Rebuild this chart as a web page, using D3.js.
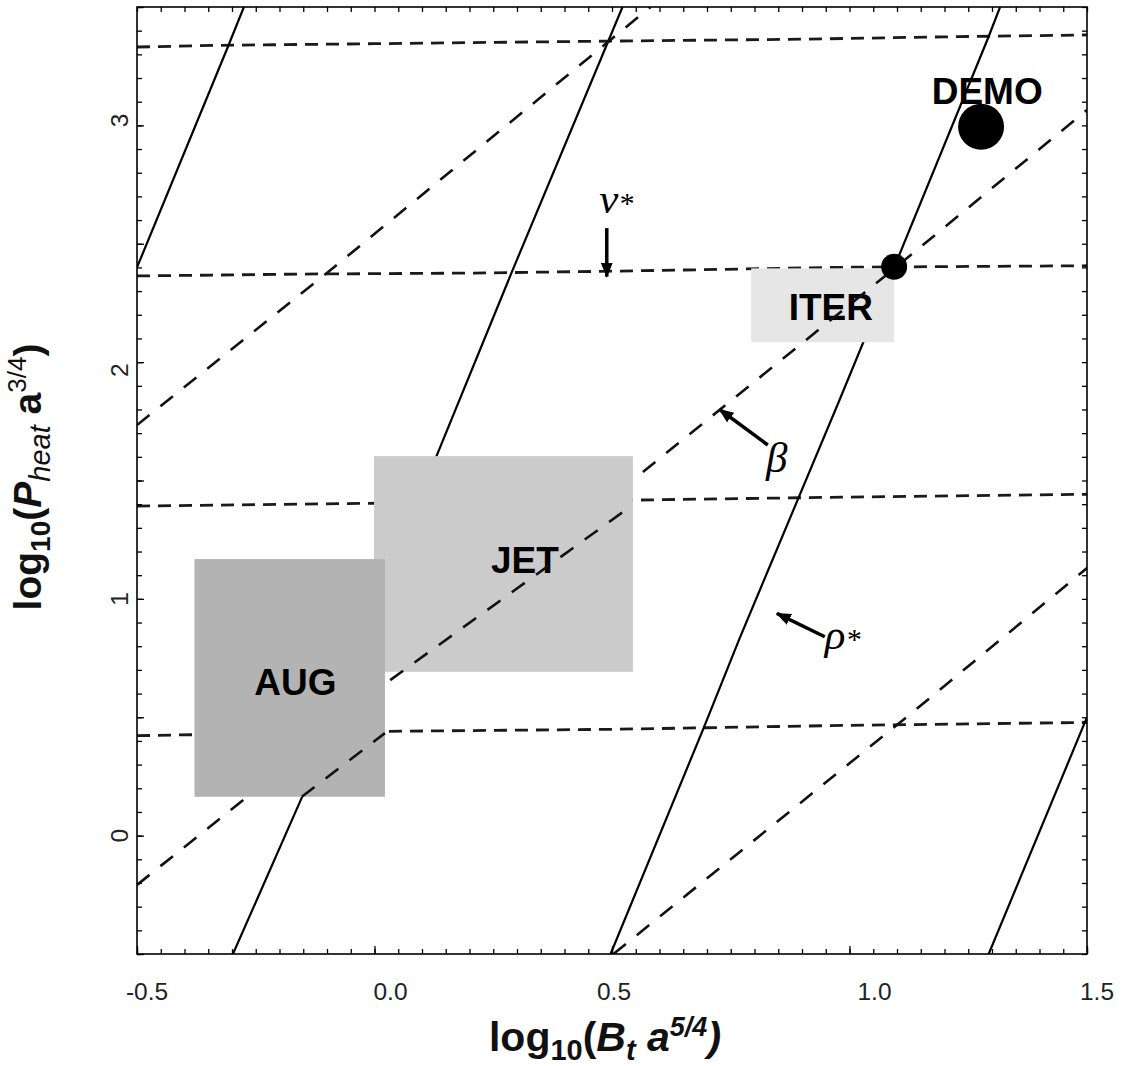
<!DOCTYPE html>
<html>
<head>
<meta charset="utf-8">
<script src="https://cdn.jsdelivr.net/npm/d3@7/dist/d3.min.js"></script>
<style>
  html, body { margin: 0; padding: 0; background: #fff; }
  svg { display: block; font-family: 'Liberation Sans', Arial, sans-serif; }
  .tick-label { font-size: 24.5px; fill: #222; }
  .axis-title { font-size: 39px; font-weight: bold; fill: #111; }
  .machine { font-size: 37px; font-weight: bold; fill: #000; }
  .greek { font-family: 'Liberation Serif', 'Times New Roman', serif; font-style: italic; font-size: 43px; fill: #000; }
  .nu-line { fill: none; stroke: #1a1a1a; stroke-width: 2.8; stroke-dasharray: 13 8; }
  .rho-line { fill: none; stroke: #000; stroke-width: 2.2; }
  .beta-line { fill: none; stroke: #111; stroke-width: 2.6; stroke-dasharray: 16 14; }
  .axis .domain { display: none; }
  .axis line { stroke: #000; stroke-width: 1.3; }
</style>
</head>
<body>
<svg id="chart" width="1122" height="1066"></svg>
<script>
// axis ticks
const xTickValues = [-0.5, 0.0, 0.5, 1.0, 1.5];
const xTickLabels = ['-0.5', '0.0', '0.5', '1.0', '1.5'];
const yTickValues = [0, 1, 2, 3];
const yTickLabels = ['0', '1', '2', '3'];

// nu* = const (nearly horizontal dashed)
const nuLines = [
  [[-0.5, 3.331], [-0.33, 3.338], [0.0, 3.345], [0.5, 3.356], [0.9, 3.364], [1.2, 3.374], [1.5, 3.382]],
  [[-0.5, 2.364], [-0.15, 2.372], [0.2, 2.376], [0.5, 2.384], [1.0, 2.401], [1.5, 2.407]],
  [[-0.5, 1.392], [0.0, 1.404], [0.5, 1.416], [1.0, 1.430], [1.5, 1.442]],
  [[-0.5, 0.422], [0.0, 0.440], [0.5, 0.449], [1.0, 0.466], [1.5, 0.478]]
];

// rho* = const (solid, steep)
const rhoLines = [
  [[-0.5, 2.40], [-0.309, 3.33], [-0.275, 3.5]],
  [[-0.298, -0.5], [-0.151, 0.17], [0.132, 1.61], [0.289, 2.38], [0.491, 3.35], [0.522, 3.5]],
  [[0.497, -0.5], [0.692, 0.45], [0.768, 0.83], [0.979, 1.84], [1.094, 2.40], [1.292, 3.37], [1.317, 3.5]],
  [[1.293, -0.5], [1.471, 0.36], [1.5, 0.50]]
];

// beta = const (diagonal dashed), middle contour comes in broken pieces
const betaLines = [
  [[-0.5, 1.734], [-0.101, 2.375], [0.552, 3.452], [0.581, 3.5]],
  [[-0.5, -0.208], [-0.268, 0.164]],
  [[-0.153, 0.164], [0.022, 0.433]],
  [[0.033, 0.657], [0.523, 1.367]],
  [[0.565, 1.536], [1.096, 2.398], [1.5, 3.065]],
  [[0.503, -0.5], [1.134, 0.523], [1.5, 1.130]]
];

// machine operating windows
const machineNames = ['JET', 'AUG', 'ITER'];
const machineX = [[-0.001, 0.544], [-0.379, 0.022], [0.793, 1.094]];
const machineY = [[0.692, 1.603], [0.164, 1.168], [2.084, 2.396]];
const machineFill = ['#cbcbcb', '#b3b3b3', '#e6e6e6'];
const machineLabelX = [0.245, -0.253, 0.872];
const machineLabelY = [1.108, 0.594, 2.178];

// design points
const pointNames = ['DEMO', 'ITER'];
const pointX = [1.277, 1.094];
const pointY = [2.994, 2.403];
const pointR = [23, 13];
const demoLabel = { text: 'DEMO', x: 1.173, y: 3.090 };

// arrows [from, to] and their symbols
const arrowFrom = [[0.489, 2.566], [0.828, 1.650], [0.948, 0.840]];
const arrowTo = [[0.489, 2.361], [0.726, 1.801], [0.847, 0.939]];
const symbolText = ['ν', 'β', 'ρ'];
const symbolStar = [true, false, true];
const symbolX = [0.473, 0.824, 0.948];
const symbolY = [2.630, 1.536, 0.788];

const layout = {
  left: 137, right: 1087, top: 7, bottom: 954,
  xNudge: [10, 16, 2, 25, 10],
  yNudge: [0, 0, 8, -5]
};

const svg = d3.select('#chart');
const x = d3.scaleLinear().domain([-0.5, 1.5]).range([layout.left, layout.right]);
const y = d3.scaleLinear().domain([-0.5, 3.5]).range([layout.bottom, layout.top]);
const line = d3.line().x(d => x(d[0])).y(d => y(d[1]));

const defs = svg.append('defs');
defs.append('clipPath').attr('id', 'plot-clip')
  .append('rect')
  .attr('x', layout.left).attr('y', layout.top)
  .attr('width', layout.right - layout.left)
  .attr('height', layout.bottom - layout.top);

defs.append('marker')
  .attr('id', 'head')
  .attr('viewBox', '0 0 15 12')
  .attr('refX', 14).attr('refY', 6)
  .attr('markerWidth', 15).attr('markerHeight', 12)
  .attr('markerUnits', 'userSpaceOnUse')
  .attr('orient', 'auto')
  .append('path').attr('d', 'M0,0 L15,6 L0,12 Z').attr('fill', '#000');

const plot = svg.append('g').attr('clip-path', 'url(#plot-clip)');

plot.selectAll('.nu-line').data(nuLines).join('path')
  .attr('class', 'nu-line').attr('d', line);

plot.selectAll('.rho-line').data(rhoLines).join('path')
  .attr('class', 'rho-line').attr('d', line);

plot.selectAll('.machine-box').data(machineNames).join('rect')
  .attr('class', 'machine-box')
  .attr('x', (d, i) => x(machineX[i][0]))
  .attr('width', (d, i) => x(machineX[i][1]) - x(machineX[i][0]))
  .attr('y', (d, i) => y(machineY[i][1]))
  .attr('height', (d, i) => y(machineY[i][0]) - y(machineY[i][1]))
  .attr('fill', (d, i) => machineFill[i]);

plot.selectAll('.machine').data(machineNames).join('text')
  .attr('class', 'machine')
  .attr('x', (d, i) => x(machineLabelX[i]))
  .attr('y', (d, i) => y(machineLabelY[i]))
  .text(d => d);

plot.append('text').attr('class', 'machine')
  .attr('x', x(demoLabel.x)).attr('y', y(demoLabel.y))
  .text(demoLabel.text);

plot.selectAll('.beta-line').data(betaLines).join('path')
  .attr('class', 'beta-line').attr('d', line);

plot.selectAll('.point').data(pointNames).join('circle')
  .attr('class', 'point')
  .attr('cx', (d, i) => x(pointX[i]))
  .attr('cy', (d, i) => y(pointY[i]))
  .attr('r', (d, i) => pointR[i])
  .attr('fill', '#000');

// arrows + symbols
svg.selectAll('.arrow').data(arrowFrom).join('line')
  .attr('class', 'arrow')
  .attr('x1', d => x(d[0])).attr('y1', d => y(d[1]))
  .attr('x2', (d, i) => x(arrowTo[i][0])).attr('y2', (d, i) => y(arrowTo[i][1]))
  .attr('stroke', '#000').attr('stroke-width', 3.5)
  .attr('marker-end', 'url(#head)');

const sym = svg.selectAll('.greek').data(symbolText).join('text')
  .attr('class', 'greek')
  .attr('x', (d, i) => x(symbolX[i]))
  .attr('y', (d, i) => y(symbolY[i]));
sym.append('tspan').text(d => d);
sym.filter((d, i) => symbolStar[i]).append('tspan')
  .attr('font-size', 30).text('*');

// frame and inward ticks
function drawAxes() {
  const xMinor = d3.range(-0.5, 1.5001, 0.05);
  const yMinor = d3.range(-0.5, 3.5001, 0.1);
  const xMajor = xTickValues;
  const yMajor = d3.range(-0.5, 3.5001, 0.5);

  const axes = [
    [d3.axisBottom(x).tickValues(xMinor).tickSize(-5), `translate(0,${layout.bottom})`],
    [d3.axisBottom(x).tickValues(xMajor).tickSize(-8), `translate(0,${layout.bottom})`],
    [d3.axisTop(x).tickValues(xMinor).tickSize(-5), `translate(0,${layout.top})`],
    [d3.axisLeft(y).tickValues(yMinor).tickSize(-5), `translate(${layout.left},0)`],
    [d3.axisLeft(y).tickValues(yMajor).tickSize(-7), `translate(${layout.left},0)`],
    [d3.axisRight(y).tickValues(yMinor).tickSize(-5), `translate(${layout.right},0)`]
  ];
  axes.forEach(([ax, tr]) => {
    svg.append('g').attr('class', 'axis').attr('transform', tr)
      .call(ax.tickFormat(''));
  });

  svg.append('rect')
    .attr('x', layout.left).attr('y', layout.top)
    .attr('width', layout.right - layout.left)
    .attr('height', layout.bottom - layout.top)
    .attr('fill', 'none').attr('stroke', '#000').attr('stroke-width', 1.6);

  svg.selectAll('.x-label').data(xTickValues).join('text')
    .attr('class', 'tick-label x-label')
    .attr('text-anchor', 'middle')
    .attr('x', (d, i) => x(d) + layout.xNudge[i])
    .attr('y', 1000)
    .text((d, i) => xTickLabels[i]);

  svg.selectAll('.y-label').data(yTickValues).join('text')
    .attr('class', 'tick-label y-label')
    .attr('text-anchor', 'middle')
    .attr('transform', (d, i) => `translate(128,${y(d) + layout.yNudge[i]}) rotate(-90)`)
    .text((d, i) => yTickLabels[i]);
}

function drawTitles() {
  const xt = svg.append('text').attr('class', 'axis-title')
    .attr('x', 605).attr('y', 1051).attr('text-anchor', 'middle')
    .style('font-size', '41px');
  xt.append('tspan').text('log');
  xt.append('tspan').attr('font-size', 29).attr('dy', 9).text('10');
  xt.append('tspan').attr('dy', -9).text('(');
  xt.append('tspan').attr('font-style', 'italic').text('B');
  xt.append('tspan').attr('font-style', 'italic').attr('font-size', 29).attr('dy', 9).text('t');
  xt.append('tspan').attr('font-style', 'italic').attr('dy', -9).text(' a');
  xt.append('tspan').attr('font-style', 'italic').attr('font-size', 27).attr('dy', -15).text('5/4');
  xt.append('tspan').attr('font-style', 'italic').attr('dy', 15).text(')');

  const yt = svg.append('text').attr('class', 'axis-title')
    .attr('text-anchor', 'middle')
    .attr('transform', 'translate(41,477) rotate(-90)');
  yt.append('tspan').text('log');
  yt.append('tspan').attr('font-size', 28).attr('dy', 9).text('10');
  yt.append('tspan').attr('dy', -9).text('(');
  yt.append('tspan').attr('font-style', 'italic').text('P');
  yt.append('tspan').attr('font-style', 'italic').attr('font-weight', 'normal').attr('font-size', 29).attr('dy', 9).text('heat');
  yt.append('tspan').attr('dy', -9).text(' a');
  yt.append('tspan').attr('font-weight', 'normal').attr('font-size', 26).attr('dy', -15).text('3/4');
  yt.append('tspan').attr('dy', 15).text(')');
}

drawAxes();
drawTitles();
</script>
</body>
</html>
